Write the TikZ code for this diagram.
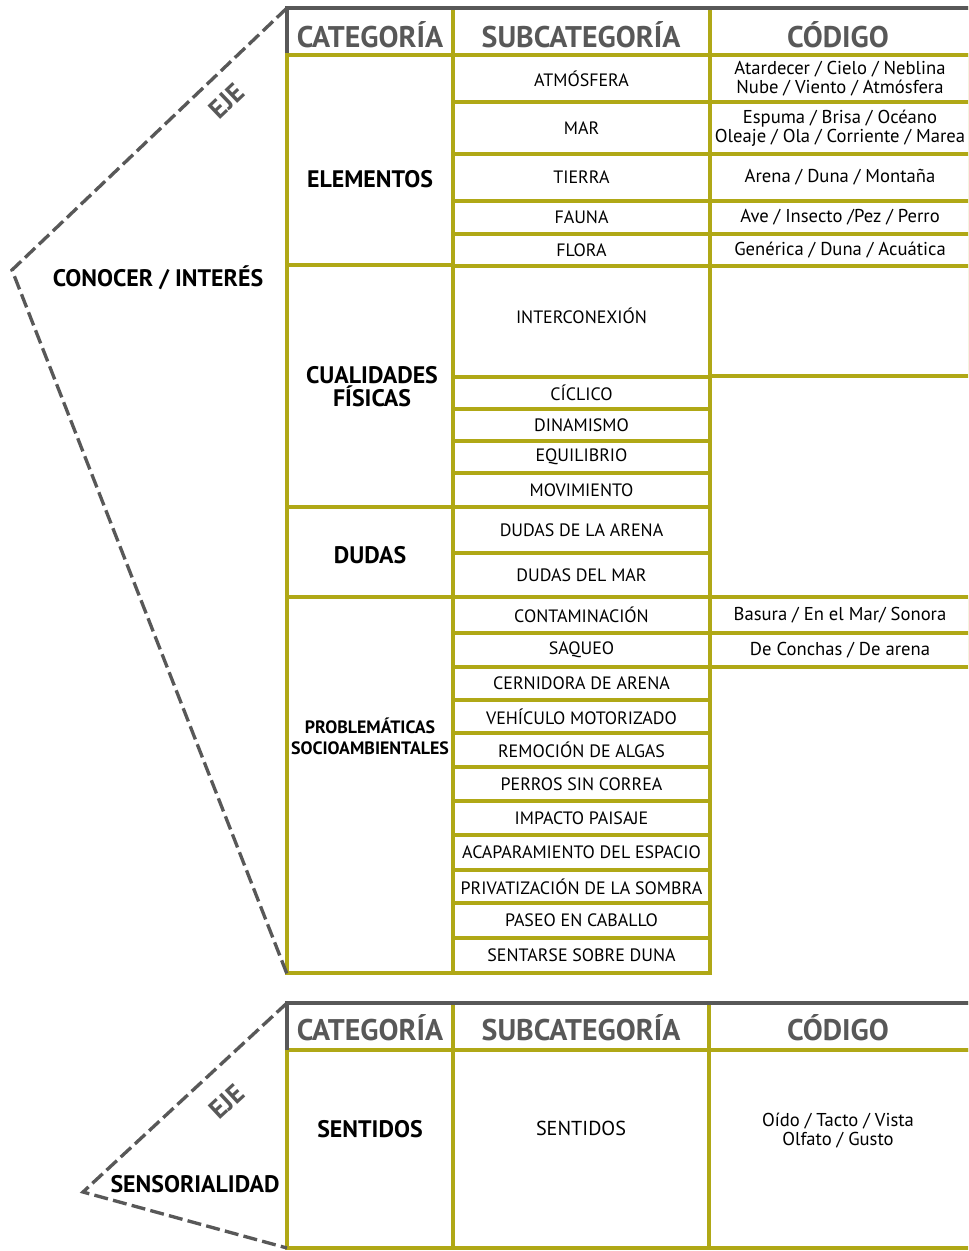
\documentclass[tikz,border=0pt]{standalone}
\usepackage{fontspec}
\setmainfont{PT Sans}
\definecolor{oliva}{RGB}{176,168,22}
\definecolor{gris}{RGB}{88,88,88}
\tikzstyle{celda}=[draw=oliva, line width=2.2pt, inner sep=0pt]
\tikzstyle{marco}=[draw=gris, line width=2.2pt]
\tikzstyle{eje}=[draw=gris, line width=1.9pt, dash pattern=on 8pt off 3pt]
\tikzstyle{cab}=[text=gris, anchor=base, font=\bfseries\fontsize{17}{17}\selectfont]
\tikzstyle{cat}=[align=center, font=\bfseries\fontsize{13.6}{13}\selectfont]
\tikzstyle{sub}=[celda, minimum width=5.14cm, font=\fontsize{10.2}{11}\selectfont]
\tikzstyle{cod}=[celda, minimum width=5.2cm, align=center, font=\fontsize{10.6}{10.8}\selectfont]
\tikzstyle{rotulo}=[text=gris, inner sep=0pt, font=\bfseries\fontsize{15}{15}\selectfont]

\begin{document}
\begin{tikzpicture}[x=0.02cm,y=-0.02cm]
\clip (0,0) rectangle (968,1251);

\draw[celda] (287,8) rectangle (453,55);
\draw[celda] (453,8) rectangle (710,55);
\draw[celda] (710,8) rectangle (975,55);
\draw[marco] (287,55) -- (287,8) -- (975,8);
\node[cab] (cat1) at (370,47) {CATEGORÍA};
\node[cab] (sub1) at (581,47) {SUBCATEGORÍA};
\node[cab] (cod1) at (838,47) {CÓDIGO};

\draw[celda] (287,55) rectangle (453,265);
\draw[celda] (287,265) rectangle (453,507);
\draw[celda] (287,507) rectangle (453,597);
\draw[celda] (287,597) rectangle (453,973);
\node[cat, anchor=base] (elementos) at (370,187) {ELEMENTOS};
\node[cat] (cualidades) at (372,387) {CUALIDADES\\FÍSICAS};
\node[cat, anchor=base] (dudas) at (370,563) {DUDAS};
\node[cat, font=\bfseries\fontsize{10.2}{12}\selectfont] (problematicas) at (370,736) {PROBLEMÁTICAS\\SOCIOAMBIENTALES};

\node[sub, minimum height=0.94cm] (atmosfera) at (581.5,78.5) {ATMÓSFERA};
\node[sub, minimum height=1.04cm] (mar) at (581.5,128) {MAR};
\node[sub, minimum height=0.94cm] (tierra) at (581.5,177.5) {TIERRA};
\node[sub, minimum height=0.66cm] (fauna) at (581.5,217.5) {FAUNA};
\node[sub, minimum height=0.64cm] (flora) at (581.5,250) {FLORA};
\node[sub, minimum height=2.22cm, text depth=0.25cm] (interconexion) at (581.5,321.5) {INTERCONEXIÓN};
\node[sub, minimum height=0.64cm] (ciclico) at (581.5,393) {CÍCLICO};
\node[sub, minimum height=0.64cm] (dinamismo) at (581.5,425) {DINAMISMO};
\node[sub, minimum height=0.64cm] (equilibrio) at (581.5,457) {EQUILIBRIO};
\node[sub, minimum height=0.68cm] (movimiento) at (581.5,490) {MOVIMIENTO};
\node[sub, minimum height=0.92cm] (dudasarena) at (581.5,530) {DUDAS DE LA ARENA};
\node[sub, minimum height=0.88cm] (dudasmar) at (581.5,575) {DUDAS DEL MAR};
\node[sub, minimum height=0.72cm] (contaminacion) at (581.5,615) {CONTAMINACIÓN};
\node[sub, minimum height=0.68cm] (saqueo) at (581.5,650) {SAQUEO};
\node[sub, minimum height=0.66cm] (cernidora) at (581.5,683.5) {CERNIDORA DE ARENA};
\node[sub, minimum height=0.66cm] (vehiculo) at (581.5,716.5) {VEHÍCULO MOTORIZADO};
\node[sub, minimum height=0.68cm] (remocion) at (581.5,750) {REMOCIÓN DE ALGAS};
\node[sub, minimum height=0.68cm] (perros) at (581.5,784) {PERROS SIN CORREA};
\node[sub, minimum height=0.68cm] (impacto) at (581.5,818) {IMPACTO PAISAJE};
\node[sub, minimum height=0.70cm] (acaparamiento) at (581.5,852.5) {ACAPARAMIENTO DEL ESPACIO};
\node[sub, minimum height=0.66cm] (privatizacion) at (581.5,886.5) {PRIVATIZACIÓN DE LA SOMBRA};
\node[sub, minimum height=0.70cm] (paseo) at (581.5,920.5) {PASEO EN CABALLO};
\node[sub, minimum height=0.70cm] (sentarse) at (581.5,955.5) {SENTARSE SOBRE DUNA};

\node[cod, minimum height=0.94cm] (codatmosfera) at (840,78.5) {Atardecer / Cielo / Neblina\\Nube / Viento / Atmósfera};
\node[cod, minimum height=1.04cm] (codmar) at (840,128) {Espuma / Brisa / Océano\\Oleaje / Ola / Corriente / Marea};
\node[cod, minimum height=0.94cm] (codtierra) at (840,177.5) {Arena / Duna / Montaña};
\node[cod, minimum height=0.66cm] (codfauna) at (840,217.5) {Ave / Insecto /Pez / Perro};
\node[cod, minimum height=0.64cm] (codflora) at (840,250) {Genérica / Duna / Acuática};
\node[cod, minimum height=2.2cm] (codinter) at (840,321) {};
\node[cod, minimum height=0.72cm] (codconta) at (840,615) {Basura / En el Mar/ Sonora};
\node[cod, minimum height=0.68cm] (codsaqueo) at (840,650) {De Conchas / De arena};

\coordinate (esq1) at (287,8);
\coordinate (punta1) at (12,270);
\coordinate (pie1) at (287,974);
\draw[eje] (esq1) -- (punta1) -- (pie1);
\path (punta1) -- (esq1) node[rotulo, pos=0.716, sloped, below=0.32cm] (eje1) {EJE};
\node[cat, anchor=base] (conocer) at (158,286) {CONOCER / INTERÉS};

\draw[celda] (287,1003) rectangle (453,1050);
\draw[celda] (453,1003) rectangle (709,1050);
\draw[celda] (709,1003) rectangle (975,1050);
\draw[celda] (287,1050) rectangle (453,1248);
\draw[celda] (453,1050) rectangle (709,1248);
\draw[celda] (709,1050) rectangle (975,1248);
\draw[marco] (287,1050) -- (287,1003) -- (975,1003);
\node[cab] (cat2) at (370,1040) {CATEGORÍA};
\node[cab] (sub2) at (581,1040) {SUBCATEGORÍA};
\node[cab] (cod2) at (838,1040) {CÓDIGO};
\node[cat, anchor=base] (sentidos) at (370,1137) {SENTIDOS};
\node[anchor=base, font=\fontsize{11.5}{11}\selectfont] (subsentidos) at (581,1135) {SENTIDOS};
\node[align=center, font=\fontsize{10.6}{10.8}\selectfont] (codsentidos) at (838,1131) {Oído / Tacto / Vista\\Olfato / Gusto};

\coordinate (esq2) at (287,1003);
\coordinate (punta2) at (83,1192);
\coordinate (pie2) at (287,1248);
\draw[eje] (esq2) -- (punta2) -- (pie2);
\path (punta2) -- (esq2) node[rotulo, pos=0.6, sloped, below=0.44cm] (eje2) {EJE};
\node[cat, anchor=base] (sensorialidad) at (195,1192) {SENSORIALIDAD};
\end{tikzpicture}
\end{document}
